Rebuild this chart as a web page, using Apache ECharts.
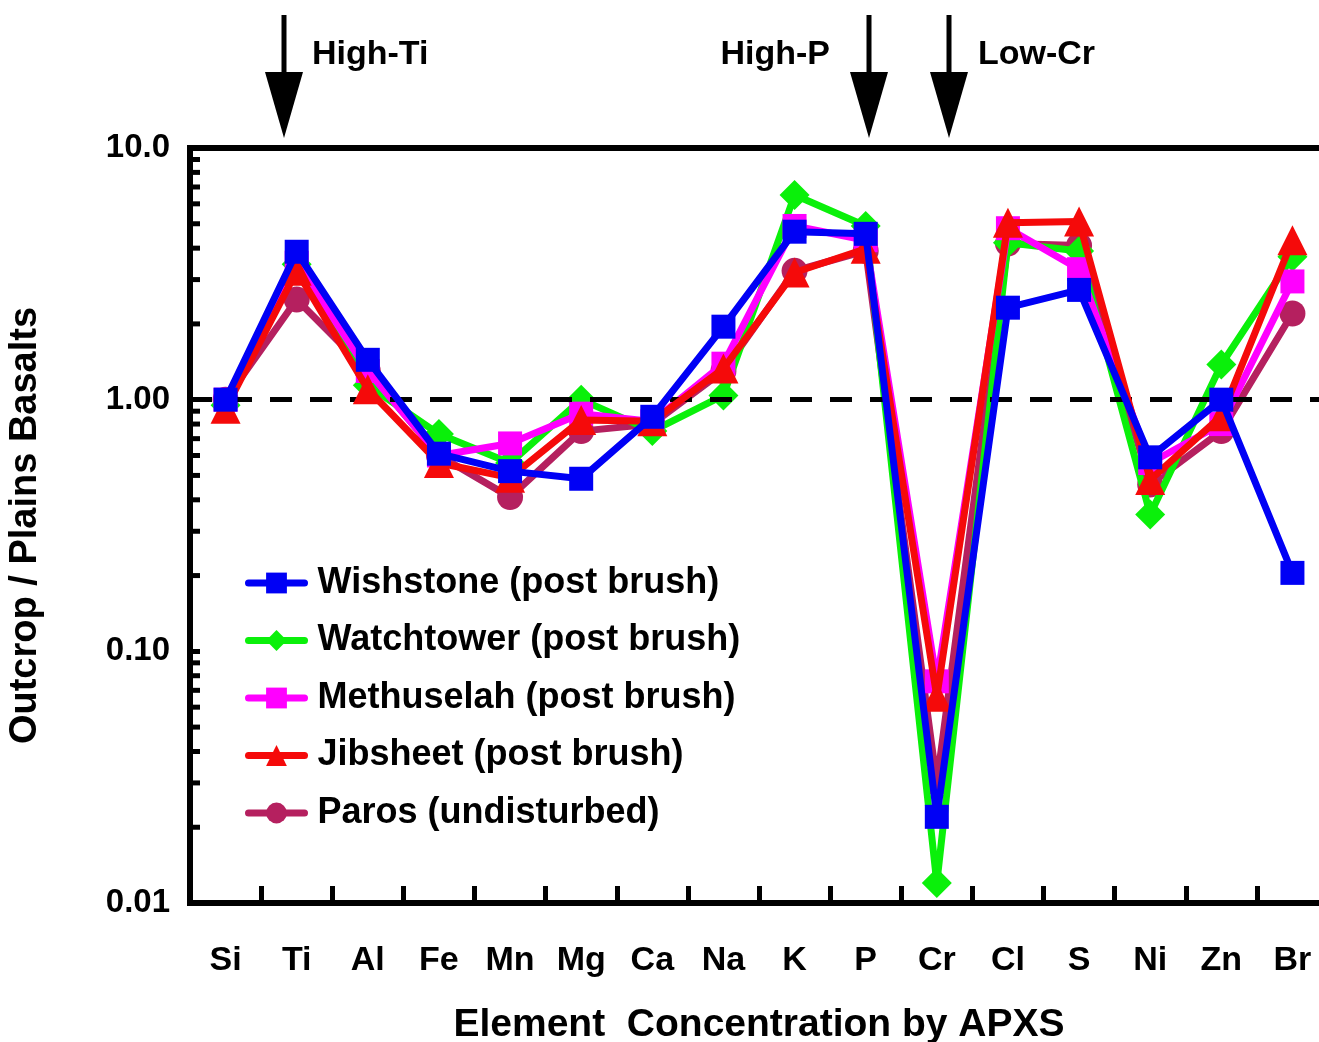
<!DOCTYPE html>
<html>
<head>
<meta charset="utf-8">
<title>Outcrop / Plains Basalts</title>
<script src="https://cdn.jsdelivr.net/npm/echarts@6/dist/echarts.min.js"></script>
<style>
  html, body { margin: 0; padding: 0; background: #fff; overflow: hidden; }
  #chart { width: 1319px; height: 1042px; }
</style>
</head>
<body>
<div id="chart"></div>
<script>
// element order along the x axis
var elements = ['Si', 'Ti', 'Al', 'Fe', 'Mn', 'Mg', 'Ca', 'Na', 'K', 'P', 'Cr', 'Cl', 'S', 'Ni', 'Zn', 'Br'];

// outcrop / plains basalt ratios
var wishstone  = [1.00, 3.87, 1.44, 0.61, 0.52, 0.485, 0.855, 1.95, 4.65, 4.56, 0.022, 2.32, 2.73, 0.59, 1.00, 0.205];
var watchtower = [0.95, 3.45, 1.14, 0.73, 0.56, 1.00, 0.75, 1.04, 6.5, 4.9, 0.012, 4.2, 3.9, 0.35, 1.38, 3.7];
var methuselah = [1.00, 3.5, 1.30, 0.60, 0.67, 0.88, 0.82, 1.39, 4.9, 4.3, 0.076, 4.8, 3.3, 0.56, 0.80, 2.95];
var jibsheet   = [0.92, 3.25, 1.10, 0.56, 0.49, 0.83, 0.82, 1.33, 3.2, 3.98, 0.066, 5.05, 5.1, 0.48, 0.86, 4.3];
var paros      = [1.00, 2.5, 1.30, 0.60, 0.41, 0.75, 0.80, 1.30, 3.25, 3.9, 0.030, 4.17, 4.1, 0.46, 0.75, 2.2];

var names = ['Wishstone (post brush)', 'Watchtower (post brush)', 'Methuselah (post brush)', 'Jibsheet (post brush)', 'Paros (undisturbed)'];
var refLine = 1;

var FONT = "'Liberation Sans', Arial, sans-serif";

// minor ticks 2..9 in each decade of the log axis
var minorTicks = [];
for (var k = -2; k < 1; k++) {
  for (var m = 2; m <= 9; m++) {
    minorTicks.push([0, m * Math.pow(10, k)]);
  }
}

function lineSeries(name, data, color, symbol, size, z) {
  return {
    name: name,
    type: 'line',
    data: data,
    symbol: symbol,
    symbolSize: size,
    showSymbol: true,
    z: z,
    lineStyle: { color: color, width: 7 },
    itemStyle: { color: color },
    emphasis: { disabled: true }
  };
}

var chart = echarts.init(document.getElementById('chart'));

// arrows + labels above the frame
function arrow(x) {
  return [
    { type: 'line', shape: { x1: x, y1: 15, x2: x, y2: 80 }, style: { stroke: '#000', lineWidth: 5 } },
    { type: 'polygon', shape: { points: [[x - 19, 72], [x + 19, 72], [x, 138]] }, style: { fill: '#000' } }
  ];
}
var graphics = [].concat(arrow(284), arrow(869), arrow(949));
graphics.push(
  { type: 'text', x: 312, y: 55, style: { text: 'High-Ti', font: 'bold 34px ' + FONT, fill: '#000', align: 'left', verticalAlign: 'middle' } },
  { type: 'text', x: 830, y: 55, style: { text: 'High-P', font: 'bold 34px ' + FONT, fill: '#000', align: 'right', verticalAlign: 'middle' } },
  { type: 'text', x: 978, y: 55, style: { text: 'Low-Cr', font: 'bold 34px ' + FONT, fill: '#000', align: 'left', verticalAlign: 'middle' } }
);

var option = {
  backgroundColor: '#fff',
  animation: false,
  grid: {
    left: 190, top: 148, width: 1138, height: 755,
    outerBoundsMode: 'none',
    containLabel: false,
    show: true, borderColor: '#000', borderWidth: 6
  },
  legend: {
    data: names,
    orient: 'vertical',
    left: 245,
    top: 563,
    padding: 0,
    itemWidth: 56,
    itemHeight: 26,
    itemGap: 17.5,
    selectedMode: false,
    lineStyle: { width: 7, cap: 'round' },
    textStyle: { fontSize: 36, fontWeight: 'bold', fontFamily: FONT, color: '#000', lineHeight: 40, padding: [0, 0, 0, 8] }
  },
  xAxis: {
    type: 'category',
    data: elements,
    boundaryGap: true,
    axisLine: { lineStyle: { color: '#000', width: 6 } },
    axisTick: { show: true, inside: true, length: 17, interval: 0, lineStyle: { color: '#000', width: 5 } },
    axisLabel: { margin: 41, fontSize: 34, fontWeight: 'bold', fontFamily: FONT, color: '#000' },
    splitLine: { show: false },
    name: 'Element  Concentration by APXS',
    nameLocation: 'middle',
    nameGap: 103,
    nameTextStyle: { fontSize: 39, fontWeight: 'bold', fontFamily: FONT, color: '#000' }
  },
  yAxis: {
    type: 'log',
    logBase: 10,
    min: 0.01,
    max: 10,
    axisLine: { show: true, lineStyle: { color: '#000', width: 6 } },
    axisTick: { show: true, inside: true, length: 10, lineStyle: { color: '#000', width: 5 } },
    axisLabel: {
      margin: 20, fontSize: 33, fontWeight: 'bold', fontFamily: FONT, color: '#000',
      formatter: function (v) { return v >= 10 ? v.toFixed(1) : v.toFixed(2); }
    },
    splitLine: { show: false },
    name: 'Outcrop / Plains Basalts',
    nameLocation: 'middle',
    nameGap: 145,
    nameRotate: 90,
    nameTextStyle: { fontSize: 38, fontWeight: 'bold', fontFamily: FONT, color: '#000' }
  },
  graphic: graphics,
  series: [
    {
      name: 'minor ticks',
      type: 'custom',
      data: minorTicks,
      encode: { x: 0, y: 1 },
      silent: true,
      z: 1,
      renderItem: function (params, api) {
        var y = api.coord([0, api.value(1)])[1];
        var x0 = params.coordSys.x;
        return { type: 'line', shape: { x1: x0, y1: y, x2: x0 + 10, y2: y }, style: { stroke: '#000', lineWidth: 5 } };
      }
    },
    {
      name: 'ref',
      type: 'line',
      data: [],
      z: 1,
      markLine: {
        silent: true,
        symbol: 'none',
        label: { show: false },
        lineStyle: { color: '#000', type: [22, 18], width: 5 },
        data: [{ yAxis: refLine }]
      }
    },
    lineSeries(names[4], paros, '#b5205f', 'circle', 26, 2),
    lineSeries(names[1], watchtower, '#0af00a', 'diamond', 30, 3),
    lineSeries(names[2], methuselah, '#ff00ff', 'rect', 24, 4),
    lineSeries(names[3], jibsheet, '#f50a0a', 'triangle', 30, 5),
    lineSeries(names[0], wishstone, '#0000f5', 'rect', 24, 6)
  ]
};

chart.setOption(option);
</script>
</body>
</html>
